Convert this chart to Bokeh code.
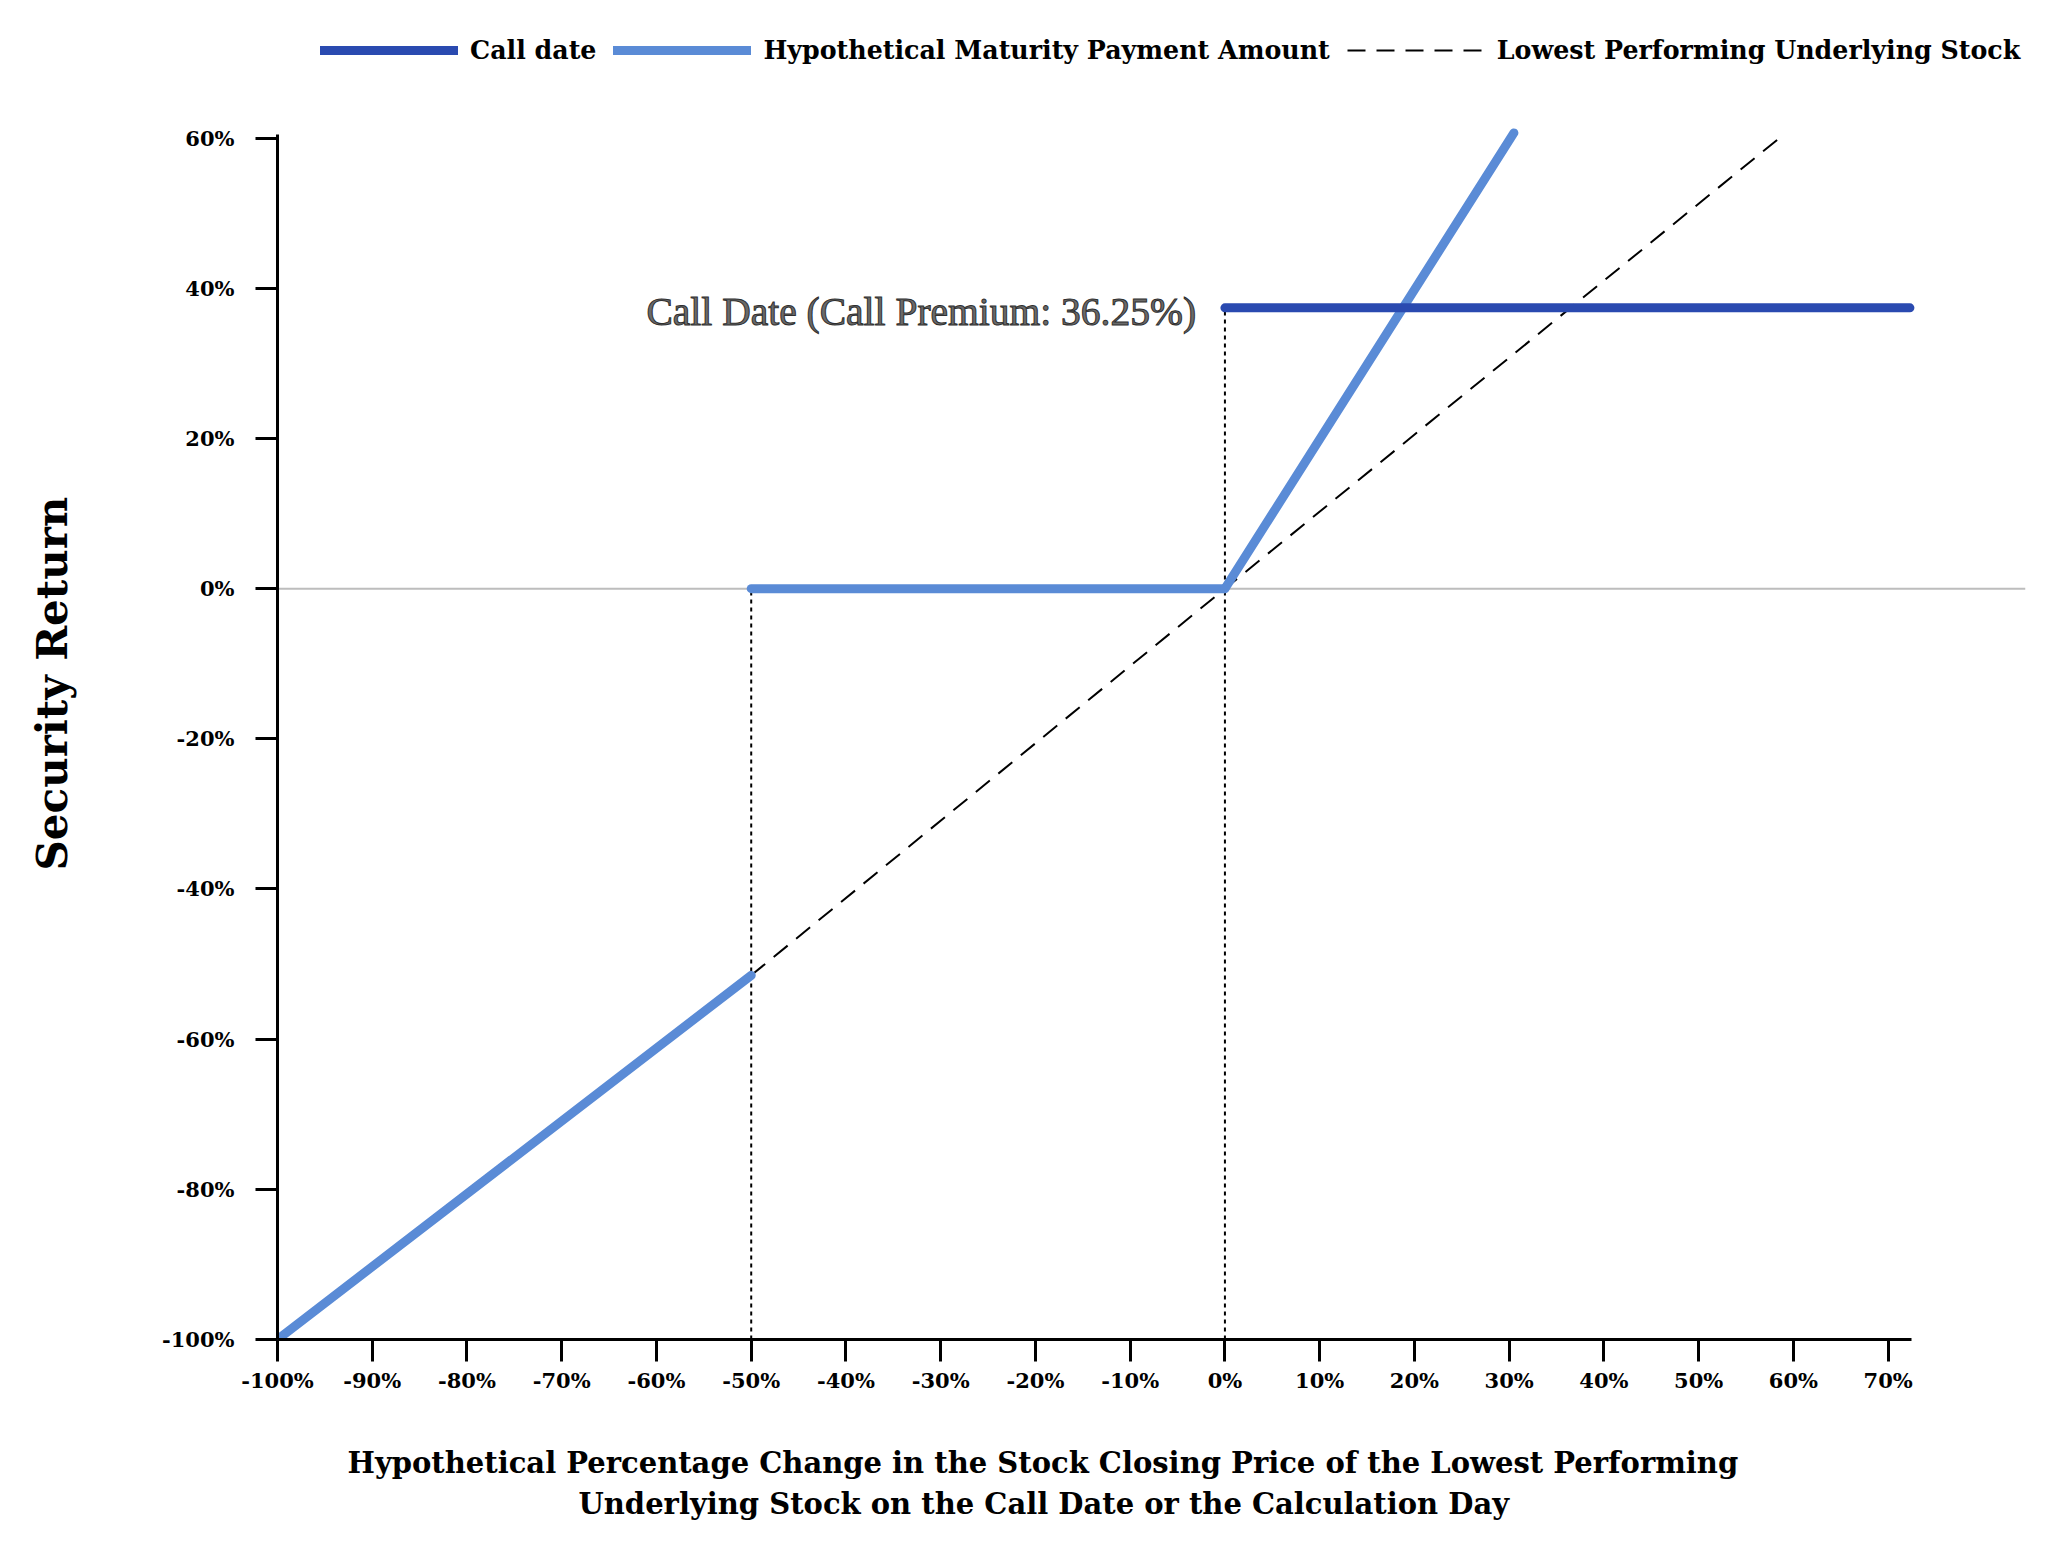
from bokeh.plotting import figure
from bokeh.models import FixedTicker, PrintfTickFormatter, Span, Label, Title
from bokeh.embed import file_html
from bokeh.resources import INLINE

# ---- data (percent) ----
x_ticks = [-100, -90, -80, -70, -60, -50, -40, -30, -20, -10, 0, 10, 20, 30, 40, 50, 60, 70]
y_ticks = [-100, -80, -60, -40, -20, 0, 20, 40, 60]

call_x = [0, 72.3]
call_y = [37.4, 37.4]

loss_x = [-100, -50]
loss_y = [-100, -51.5]
flat_x = [-50, 0]
flat_y = [0, 0]
upside_x = [0, 30.5]
upside_y = [0, 60.7]

stock_x = [-50, 0, 59.0]
stock_y = [-51.5, 0, 60.5]

guide1_x = [-50, -50]
guide1_y = [-100, 0]
guide2_x = [0, 0]
guide2_y = [-100, 37.4]

annotation = "Call Date (Call Premium: 36.25%)"
x_title_1 = "Hypothetical Percentage Change in the Stock Closing Price of the Lowest Performing"
x_title_2 = "Underlying Stock on the Call Date or the Calculation Day"
y_title = "Security Return"

DARK = "#2a4ab0"
LIGHT = "#5a8bd6"
FONT = "DejaVu Serif"

p = figure(width=2040, height=1525, x_range=(-100, 84.5), y_range=(-100, 77.0),
           output_backend="svg", toolbar_location=None,
           min_border_left=277, min_border_right=15, min_border_top=10, min_border_bottom=186)
p.xgrid.visible = False
p.ygrid.visible = False
p.outline_line_color = None
p.background_fill_color = "white"

p.add_layout(Span(location=0, dimension="width", line_color="#bdbdbd", line_width=2, level="underlay"))

# guides
p.line(guide1_x, guide1_y, line_color="black", line_width=2, line_dash="4 4")
p.line(guide2_x, guide2_y, line_color="black", line_width=2, line_dash="4 4")

p.line(stock_x, stock_y, line_color="black", line_width=2, line_dash="18 11",
       legend_label="Lowest Performing Underlying Stock")
p.multi_line([loss_x, flat_x, upside_x], [loss_y, flat_y, upside_y],
             line_color=LIGHT, line_width=9, line_cap="round",
             legend_label="Hypothetical Maturity Payment Amount")
p.line(call_x, call_y, line_color=DARK, line_width=9, line_cap="round",
       legend_label="Call date")

# legend (inside the upper, empty part of the frame)
leg = p.legend[0]
items = {it.label["value"]: it for it in leg.items}
leg.items = [items["Call date"], items["Hypothetical Maturity Payment Amount"],
             items["Lowest Performing Underlying Stock"]]
leg.location = (43, 1274)
leg.orientation = "horizontal"
leg.glyph_width = 138
leg.glyph_height = 20
leg.label_standoff = 12
leg.spacing = 17
leg.padding = 0
leg.margin = 0
leg.border_line_color = None
leg.background_fill_alpha = 0
leg.label_text_font = FONT
leg.label_text_font_style = "bold"
leg.label_text_font_size = "25.3px"
leg.label_text_color = "black"

# axes
for ax in (p.xaxis, p.yaxis):
    ax.axis_line_color = "black"
    ax.axis_line_width = 3
    ax.major_tick_line_color = "black"
    ax.major_tick_line_width = 3
    ax.major_tick_in = 0
    ax.major_tick_out = 22
    ax.minor_tick_line_color = None
    ax.major_label_text_font = FONT
    ax.major_label_text_font_style = "bold"
    ax.major_label_text_font_size = "21px"
    ax.major_label_text_color = "black"
    ax.formatter = PrintfTickFormatter(format="%d%%")

p.xaxis.ticker = FixedTicker(ticks=x_ticks)
p.yaxis.ticker = FixedTicker(ticks=y_ticks)
p.xaxis.bounds = (-100, 72.5)
p.yaxis.bounds = (-100, 60.5)
p.xaxis.major_label_standoff = 6
p.yaxis.major_label_standoff = 21

# y title: spacer + rotated title on the left
p.add_layout(Title(text=" ", text_font_size="10px", standoff=67), "left")
p.add_layout(Title(text=y_title, align="left", offset=469, standoff=4, vertical_align="bottom",
                   text_font=FONT, text_font_style="bold", text_font_size="42px",
                   text_color="black"), "left")

# annotation
note = Label(x=-3.05, y=36.9, text=annotation, text_align="right", text_baseline="middle",
             text_font="Liberation Serif", text_font_size="39.5px", text_color="#6a6a6a")
try:
    note.text_outline_color = "#2f2f2f"
except Exception:
    note.text_color = "#555555"
p.add_layout(note)

# x title: spacer + two lines below the axis
p.add_layout(Title(text=" ", text_font_size="10px", standoff=33), "below")
p.add_layout(Title(text=x_title_1, align="left", offset=70, standoff=4, vertical_align="bottom",
                   text_font=FONT, text_font_style="bold", text_font_size="29px",
                   text_color="black"), "below")
p.add_layout(Title(text=x_title_2, align="left", offset=301, standoff=6, vertical_align="bottom",
                   text_font=FONT, text_font_style="bold", text_font_size="29px",
                   text_color="black"), "below")

open("out.html", "w").write(file_html(p, INLINE))
